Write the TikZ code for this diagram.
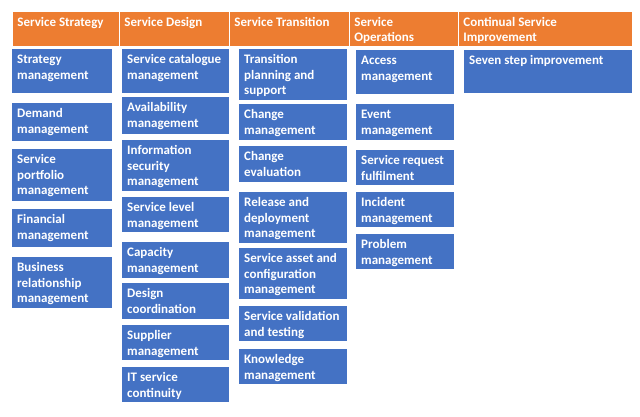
\documentclass[tikz,border=0pt]{standalone}
\usepackage{fontspec}
\setmainfont{Carlito}
\definecolor{hdr}{HTML}{ED7D31}
\definecolor{bluebox}{HTML}{4472C4}
\tikzset{
  box/.style={fill=bluebox, inner sep=0pt, anchor=north west, text=white,
    font=\bfseries\fontsize{13}{15.5}\selectfont},
  hbox/.style={box, fill=hdr, draw=white, line width=0.8pt}
}
\newcommand\bx[7][box]{%
  \pgfmathsetmacro\bw{#5-#3}\pgfmathsetmacro\bh{#6-#4}%
  \node[#1] (#2) at (#3,#4) {\parbox[t][\bh pt][t]{\bw pt}{\vskip 3.8pt\raggedright\leftskip=5pt\rightskip=0pt plus 1fil\strut #7}};}
\begin{document}
\begin{tikzpicture}[x=1pt,y=-1pt]
\useasboundingbox[fill=white] (0,0) rectangle (640,417);
% headers
\bx[hbox]{h1}{12}{11}{119}{46}{Service Strategy}
\bx[hbox]{h2}{119}{11}{229}{46}{Service Design}
\bx[hbox]{h3}{229}{11}{349}{46}{Service Transition}
\bx[hbox]{h4}{349}{11}{458}{46}{Service\\Operations}
\bx[hbox]{h5}{458}{11}{632}{46}{Continual Service\\Improvement}
% column 1
\bx{s1}{12}{49}{112}{93}{Strategy\\management}
\bx{s2}{12}{103}{112}{141}{Demand\\management}
\bx{s3}{12}{149}{112}{201}{Service\\portfolio\\management}
\bx{s4}{12}{209}{112}{247}{Financial\\management}
\bx{s5}{12}{257}{112}{308}{Business\\relationship\\management}
% column 2
\bx{d1}{122}{49}{229}{93}{Service catalogue\\management}
\bx{d2}{122}{97}{229}{134}{Availability\\management}
\bx{d3}{122}{140}{229}{191}{Information\\security\\management}
\bx{d4}{122}{197}{229}{232}{Service level\\management}
\bx{d5}{122}{242}{229}{278}{Capacity\\management}
\bx{d6}{122}{283}{229}{319}{Design\\coordination}
\bx{d7}{122}{325}{229}{360}{Supplier\\management}
\bx{d8}{122}{367}{229}{402}{IT service\\continuity}
% column 3
\bx{t1}{239}{49}{347}{100}{Transition\\planning and\\support}
\bx{t2}{239}{104}{347}{140}{Change\\management}
\bx{t3}{239}{146}{347}{182}{Change\\evaluation}
\bx{t4}{239}{192}{347}{243}{Release and\\deployment\\management}
\bx{t5}{239}{248}{347}{299}{Service asset and\\configuration\\management}
\bx{t6}{239}{306}{347}{341}{Service validation\\and testing}
\bx{t7}{239}{349}{347}{384}{Knowledge\\management}
% column 4
\bx{o1}{356}{50}{454}{94}{Access\\management}
\bx{o2}{356}{104}{454}{140}{Event\\management}
\bx{o3}{356}{150}{454}{185}{Service request\\fulfilment}
\bx{o4}{356}{192}{454}{227}{Incident\\management}
\bx{o5}{356}{234}{454}{269}{Problem\\management}
% column 5
\bx{c1}{464}{50}{632}{93}{Seven step improvement}
\end{tikzpicture}
\end{document}
